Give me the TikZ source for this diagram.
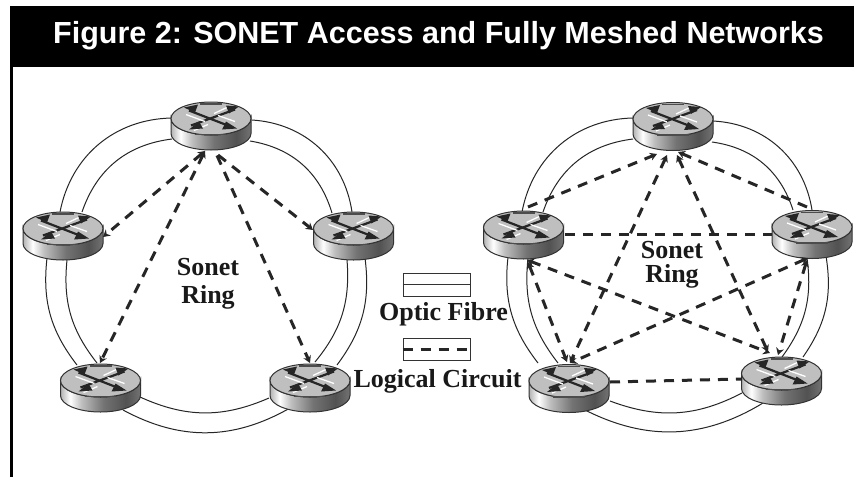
\documentclass[tikz,border=0pt]{standalone}
\usepackage{fontspec}
\usetikzlibrary{arrows.meta}
\newfontfamily\titlefont{Liberation Sans}
\newfontfamily\labelfont{Liberation Serif}
\pgfdeclarehorizontalshading{rbody}{100bp}{color(0bp)=(gray!60!white);color(25bp)=(gray!60!white);color(31bp)=(white);color(38bp)=(gray!50!white);color(52bp)=(gray!90!black);color(66bp)=(black!68);color(75bp)=(black!55);color(100bp)=(black!55)}
\tikzset{
  routeranchor/.style={inner sep=0pt,minimum width=80pt,minimum height=48pt},
  fibre/.style={draw=black!85,line width=1pt},
  circuit/.style={draw=black!85,line width=3pt,dash pattern=on 10pt off 8pt},
  tip/.style={-{Stealth[length=7pt,width=8pt]}},
  ends/.style={{Stealth[length=7pt,width=8pt]}-{Stealth[length=7pt,width=8pt]}},
  label/.style={font=\labelfont\bfseries\fontsize{26}{28}\selectfont,inner sep=0pt,text=black!90},
  router/.pic={
    \shade[shading=rbody,draw=black!80,line width=1pt] (-40pt,-7) -- (-40pt,8) arc[start angle=180,end angle=360,x radius=40pt,y radius=16.5pt] -- (40pt,-7) arc[start angle=360,end angle=180,x radius=40pt,y radius=16.5pt] -- cycle;
    \draw[draw=black!80,fill=black!25,line width=1pt] (0,-7) ellipse[x radius=40pt,y radius=16.5pt];
    \draw[line width=2.2pt,black!85] (-22,-15) -- (22,2) (24,-16) -- (-20,0);
    \draw[line width=1.3pt,white] (-25,-11) -- (-6,-4) (7,-10) -- (24,-4) (18,-19) -- (3,-12) (-3,-1) -- (-17,5);
    \fill[black!85] (-27,-18) -- (-13,-21) -- (-16,-13) -- cycle (28,-19) -- (15,-20) -- (18,-12) -- cycle (-22,4) -- (-8,3) -- (-12,-4) -- cycle (26,3) -- (11,4) -- (15,-4) -- cycle;
    \draw[line width=1.2pt,black!70] (-11,-21.5) -- (11,-21.5) (-16,9) -- (16,9);
  }
}
\begin{document}
\begin{tikzpicture}[x=1pt,y=-1pt]
\useasboundingbox (0,0) rectangle (854,477);
\fill[white] (0,0) rectangle (854,477);
\fill[black] (10,6) rectangle (854,67);
\fill[black] (10,67) rectangle (13,477);
\node[anchor=base west,inner sep=0pt,text=white,font=\titlefont\bfseries\fontsize{30.5}{34}\selectfont] (title) at (53,43) {Figure 2: SONET Access and Fully Meshed Networks};
% left ring
\node[routeranchor] (T) at (211,125.5) {};
\node[routeranchor] (A) at (63,235.5) {};
\node[routeranchor] (B) at (353.5,235.5) {};
\node[routeranchor] (C) at (100.5,387.5) {};
\node[routeranchor] (D) at (310,387.5) {};
\draw[fibre] ([shift={(41,-5.5)}]T.center) to[bend left=39] ([shift={(-1.5,-23.5)}]B.center);
\draw[fibre] ([shift={(39,15.5)}]T.center) to[bend left=32] ([shift={(-21.5,-22.5)}]B.center);
\draw[fibre] ([shift={(11.5,22.5)}]B.center) to[bend left=22] ([shift={(27,-22.5)}]D.center);
\draw[fibre] ([shift={(-6.5,24.5)}]B.center) to[bend left=22] ([shift={(5,-25.5)}]D.center);
\draw[fibre] ([shift={(-20,20.5)}]D.center) to[bend left=29] ([shift={(22.5,22.5)}]C.center);
\draw[fibre] ([shift={(-41,10.5)}]D.center) to[bend left=24] ([shift={(39.5,9.5)}]C.center);
\draw[fibre] ([shift={(-23.5,-22.5)}]C.center) to[bend left=22] ([shift={(-16,22.5)}]A.center);
\draw[fibre] ([shift={(-3.5,-24.5)}]C.center) to[bend left=22] ([shift={(4,24.5)}]A.center);
\draw[fibre] ([shift={(-3,-23.5)}]A.center) to[bend left=39] ([shift={(-39,-7.5)}]T.center);
\draw[fibre] ([shift={(19,-23.5)}]A.center) to[bend left=32] ([shift={(-39,13.5)}]T.center);
\foreach \r in {T,A,B,C,D} {\pic at (\r.center) {router};}
\draw[circuit,ends] ([shift={(-6,25.5)}]T.center) -- ([shift={(40,1.5)}]A.center);
\draw[circuit,ends] ([shift={(-6,25.5)}]T.center) -- ([shift={(-0.5,-24.5)}]C.center);
\draw[circuit,tip] ([shift={(6,30)}]T.center) -- ([shift={(0,-24.5)}]D.center);
\draw[circuit,tip] ([shift={(7,29.5)}]T.center) -- ([shift={(-40.5,-5.5)}]B.center);
\node[label,align=center] (lab1) at (208,283.5) {Sonet\\Ring};
% right ring
\node[routeranchor] (T2) at (673,126) {};
\node[routeranchor] (A2) at (523.5,234.5) {};
\node[routeranchor] (B2) at (812,234) {};
\node[routeranchor] (C2) at (569,388) {};
\node[routeranchor] (D2) at (781.5,380.5) {};
\draw[fibre] ([shift={(40,-5)}]T2.center) to[bend left=39] ([shift={(0,-24)}]B2.center);
\draw[fibre] ([shift={(39,16)}]T2.center) to[bend left=32] ([shift={(-19,-24)}]B2.center);
\draw[fibre] ([shift={(14,22)}]B2.center) to[bend left=22] ([shift={(21.5,-23.5)}]D2.center);
\draw[fibre] ([shift={(-5,24)}]B2.center) to[bend left=22] ([shift={(0.5,-23.5)}]D2.center);
\draw[fibre] ([shift={(-18.5,22.5)}]D2.center) to[bend left=29] ([shift={(16,22)}]C2.center);
\draw[fibre] ([shift={(-39.5,12.5)}]D2.center) to[bend left=24] ([shift={(41,13)}]C2.center);
\draw[fibre] ([shift={(-31,-25)}]C2.center) to[bend left=22] ([shift={(-15.5,22.5)}]A2.center);
\draw[fibre] ([shift={(-11,-25)}]C2.center) to[bend left=22] ([shift={(4.5,23.5)}]A2.center);
\draw[fibre] ([shift={(-1.5,-22.5)}]A2.center) to[bend left=39] ([shift={(-40,-8)}]T2.center);
\draw[fibre] ([shift={(19.5,-22.5)}]A2.center) to[bend left=32] ([shift={(-40,13)}]T2.center);
\foreach \r in {T2,A2,B2,C2,D2} {\pic at (\r.center) {router};}
\draw[circuit,tip] ([shift={(4.5,-27.5)}]A2.center) -- ([shift={(-16,28)}]T2.center);
\draw[circuit,tip] ([shift={(-5,-27)}]B2.center) -- ([shift={(5,26)}]T2.center);
\draw[circuit,ends] ([shift={(-6,29)}]T2.center) -- ([shift={(1,-25)}]C2.center);
\draw[circuit,ends] ([shift={(4,29)}]T2.center) -- ([shift={(-13.5,-28.5)}]D2.center);
\draw[circuit] ([shift={(41.5,-0.5)}]A2.center) -- ([shift={(-40,0)}]B2.center);
\draw[circuit,ends] ([shift={(3.5,25.5)}]A2.center) -- ([shift={(-11.5,-27.5)}]D2.center);
\draw[circuit,ends] ([shift={(-4,24)}]B2.center) -- ([shift={(1,-25)}]C2.center);
\draw[circuit,ends] ([shift={(4.5,27.5)}]A2.center) -- ([shift={(-2,-26)}]C2.center);
\draw[circuit,ends] ([shift={(-5,26)}]B2.center) -- ([shift={(-3.5,-25.5)}]D2.center);
\draw[circuit] ([shift={(41,-6)}]C2.center) -- ([shift={(-39.5,-1.5)}]D2.center);
\node[label,align=center,font=\labelfont\bfseries\fontsize{26}{24}\selectfont] (lab2) at (672,265) {Sonet\\Ring};
% legend
\node[draw=black!80,line width=1pt,inner sep=0pt,minimum width=67pt,minimum height=23pt] (leg1) at (436.5,284.5) {};
\draw[line width=1pt,black!80] (leg1.west) -- (leg1.east);
\node[label,anchor=base] (opt) at (443.5,320) {Optic Fibre};
\node[draw=black!80,line width=1pt,inner sep=0pt,minimum width=67pt,minimum height=22pt] (leg2) at (436.5,349.5) {};
\draw[circuit] (leg2.west) -- (leg2.east);
\node[label,anchor=base] (log) at (437.5,387) {Logical Circuit};
\end{tikzpicture}
\end{document}
